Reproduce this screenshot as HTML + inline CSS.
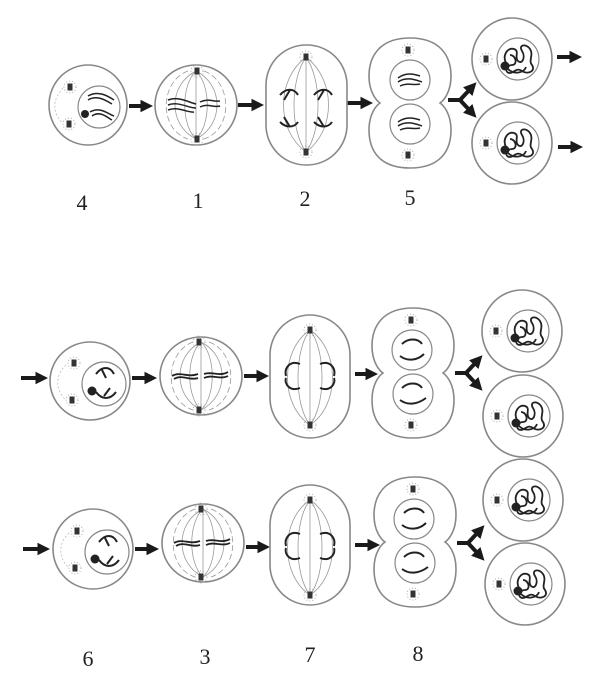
<!DOCTYPE html>
<html><head><meta charset="utf-8"><style>
html,body{margin:0;padding:0;background:#fff;}
svg{display:block}
text{font-family:"Liberation Serif",serif;font-size:22px;fill:#222;}
</style></head><body>
<svg width="606" height="676" viewBox="0 0 606 676" xmlns="http://www.w3.org/2000/svg">
<defs>
<marker id="ah" viewBox="0 0 10 10" refX="6" refY="5" markerWidth="3.2" markerHeight="3.2" orient="auto"><path d="M0,0 L10,5 L0,10 z" fill="#1a1a1a"/></marker>
<g id="cs"><circle r="6" fill="none" stroke="#aaa" stroke-width="1" stroke-dasharray="1,2"/><rect x="-2.5" y="-3.5" width="5" height="7" fill="#333"/></g>
<path id="pn" d="M0,-65 C30,-65 41,-47 41,-27 C41,-10 33,-2 30,0 C33,2 41,10 41,27 C41,48 30,65 0,65 C-30,65 -41,48 -41,27 C-41,10 -33,2 -30,0 C-33,-2 -41,-10 -41,-27 C-41,-47 -30,-65 0,-65Z" fill="none" stroke="#888" stroke-width="1.6"/>
<g id="sp" fill="none" stroke="#999" stroke-width="0.8">
<path d="M0,-34 C-28,-20 -28,20 0,34"/><path d="M0,-34 C28,-20 28,20 0,34"/>
<path d="M0,-34 C-15,-20 -15,20 0,34"/><path d="M0,-34 C15,-20 15,20 0,34"/>
<path d="M0,-34 L0,34"/>
<path d="M-8,-34 C-36,-24 -38,24 -8,34" stroke-dasharray="6,3"/><path d="M8,-34 C36,-24 38,24 8,34" stroke-dasharray="6,3"/></g>
<g id="dc"><ellipse rx="40" ry="41" fill="none" stroke="#888" stroke-width="1.6"/><circle cx="6" cy="0" r="21" fill="none" stroke="#888" stroke-width="1.2"/><use href="#cs" x="-26" y="0"/>
<path d="M-6,4 C-10,-4 -4,-12 2,-10 C8,-8 2,-2 6,2 C10,6 14,-2 10,-8 C6,-14 14,-16 18,-10 C22,-4 16,2 20,6 C24,12 16,16 10,12 C4,8 2,14 -2,14 C-8,14 -6,6 0,6 C6,6 4,-4 -2,-4 M-4,10 C2,16 12,14 14,8" fill="none" stroke="#222" stroke-width="1.8"/><circle cx="-7" cy="7" r="4.5" fill="#222"/></g>
</defs>
<g stroke="#1a1a1a" stroke-width="4" marker-end="url(#ah)">
<line x1="129" y1="106" x2="148" y2="106"/><line x1="238" y1="105" x2="259" y2="105"/><line x1="347" y1="103" x2="368" y2="103"/>
<line x1="557" y1="57" x2="577" y2="57"/><line x1="558" y1="147" x2="578" y2="147"/>
<line x1="21" y1="378" x2="43" y2="378"/><line x1="132" y1="378" x2="152" y2="378"/><line x1="244" y1="376" x2="264" y2="376"/><line x1="355" y1="374" x2="373" y2="374"/>
<line x1="23" y1="549" x2="45" y2="549"/><line x1="135" y1="549" x2="154" y2="549"/><line x1="246" y1="547" x2="265" y2="547"/><line x1="355" y1="545" x2="375" y2="545"/>
<line x1="460" y1="100" x2="473" y2="86"/><line x1="460" y1="100" x2="473" y2="114"/>
<line x1="466" y1="373" x2="479" y2="359"/><line x1="466" y1="373" x2="479" y2="387"/>
<line x1="468" y1="543" x2="481" y2="529"/><line x1="468" y1="543" x2="481" y2="557"/>
</g>
<g stroke="#1a1a1a" stroke-width="4">
<line x1="448" y1="100" x2="461" y2="100"/><line x1="455" y1="373" x2="467" y2="373"/><line x1="457" y1="543" x2="469" y2="543"/>
</g>
<!-- top row -->
<ellipse cx="88" cy="105" rx="39" ry="40" fill="none" stroke="#888" stroke-width="1.6"/>
<circle cx="99" cy="107" r="21" fill="none" stroke="#888" stroke-width="1.2"/>
<use href="#cs" x="70" y="87"/><use href="#cs" x="69" y="124"/>
<path d="M63,88 C52,100 52,112 63,124" fill="none" stroke="#bbb" stroke-width="0.8" stroke-dasharray="2,2"/>
<g fill="none" stroke="#222" stroke-width="1.5"><path d="M88,96 C98,90 108,96 114,100 M88,100 C98,94 108,102 112,104 M90,112 C100,106 108,114 114,116 M92,116 C100,110 108,118 112,120"/></g>
<circle cx="85" cy="114" r="4" fill="#222"/>
<ellipse cx="196" cy="105" rx="41" ry="40" fill="none" stroke="#888" stroke-width="1.6"/>
<use href="#sp" x="196" y="105"/>
<use href="#cs" x="197" y="71"/><use href="#cs" x="197" y="139"/>
<g fill="none" stroke="#222" stroke-width="1.5"><path d="M168,100 C178,96 188,102 196,104 M168,105 C178,101 188,108 196,108 M168,110 C178,106 188,113 194,112 M200,102 C208,98 214,102 220,101 M200,107 C208,103 214,108 220,106"/></g>
<rect x="266" y="45" width="81" height="120" rx="40" fill="none" stroke="#888" stroke-width="1.6"/>
<g fill="none" stroke="#999" stroke-width="0.8"><path d="M306,57 C276,80 276,130 306,152"/><path d="M306,57 C336,80 336,130 306,152"/><path d="M306,57 C290,80 290,130 306,152"/><path d="M306,57 C322,80 322,130 306,152"/><path d="M306,57 L306,152"/></g>
<use href="#cs" x="306" y="57"/><use href="#cs" x="306" y="152"/>
<g fill="none" stroke="#222" stroke-width="2"><path d="M280,95 C286,88 294,88 298,95 M284,100 L290,90 M280,122 C286,128 294,128 298,122 M284,117 L290,127 M314,95 C320,88 328,88 332,95 M318,100 L324,90 M314,122 C320,128 328,128 332,122 M318,117 L324,127"/></g>
<use href="#pn" x="410" y="103"/>
<circle cx="410" cy="80" r="20" fill="none" stroke="#888" stroke-width="1.2"/><circle cx="410" cy="124" r="20" fill="none" stroke="#888" stroke-width="1.2"/>
<use href="#cs" x="408" y="50"/><use href="#cs" x="408" y="155"/>
<g fill="none" stroke="#222" stroke-width="1.5"><path d="M398,78 C406,72 414,74 420,76 M398,82 C406,76 416,80 422,82 M400,86 C408,82 414,86 420,84 M398,122 C406,116 414,118 420,120 M398,126 C406,120 416,124 422,126 M400,130 C408,126 414,130 420,128"/></g>
<use href="#dc" x="512" y="59"/><use href="#dc" x="512" y="143"/>
<!-- middle row -->
<ellipse cx="90" cy="381" rx="40" ry="39" fill="none" stroke="#888" stroke-width="1.6"/>
<circle cx="104" cy="384" r="22" fill="none" stroke="#888" stroke-width="1.2"/>
<use href="#cs" x="74" y="363"/><use href="#cs" x="72" y="400"/>
<path d="M66,365 C55,375 55,390 66,400" fill="none" stroke="#bbb" stroke-width="0.8" stroke-dasharray="2,2"/>
<g fill="none" stroke="#222" stroke-width="2"><path d="M96,374 C102,366 110,366 114,374 M102,370 L106,378 M96,392 C102,400 110,400 116,392 M104,396 L110,388"/></g>
<circle cx="92" cy="391" r="4.5" fill="#222"/>
<ellipse cx="201" cy="376" rx="41" ry="39" fill="none" stroke="#888" stroke-width="1.6"/>
<use href="#sp" x="201" y="376"/>
<use href="#cs" x="199" y="342"/><use href="#cs" x="199" y="410"/>
<g fill="none" stroke="#222" stroke-width="1.8"><path d="M172,376 C180,371 188,378 198,374 M174,379 C182,374 190,381 198,378 M204,374 C212,371 220,377 228,372 M204,378 C212,374 220,380 228,376"/></g>
<rect x="270" y="315" width="80" height="123" rx="40" fill="none" stroke="#888" stroke-width="1.6"/>
<g fill="none" stroke="#999" stroke-width="0.8"><path d="M310,330 C280,350 280,405 310,425"/><path d="M310,330 C340,350 340,405 310,425"/><path d="M310,330 C294,350 294,405 310,425"/><path d="M310,330 C326,350 326,405 310,425"/><path d="M310,330 L310,425"/></g>
<use href="#cs" x="310" y="330"/><use href="#cs" x="310" y="425"/>
<g fill="none" stroke="#222" stroke-width="2"><path d="M300,364 C290,360 284,368 286,376 M300,388 C290,392 284,384 286,378 M320,364 C330,360 336,368 334,376 M320,388 C330,392 336,384 334,378"/></g>
<use href="#pn" x="413" y="373"/>
<circle cx="412" cy="350" r="20" fill="none" stroke="#888" stroke-width="1.2"/><circle cx="413" cy="394" r="20" fill="none" stroke="#888" stroke-width="1.2"/>
<use href="#cs" x="411" y="320"/><use href="#cs" x="411" y="425"/>
<g fill="none" stroke="#222" stroke-width="2"><path d="M402,344 C408,338 418,338 422,344 M400,356 C408,362 418,360 424,354 M402,388 C408,382 418,382 422,388 M400,400 C408,406 418,404 426,398"/></g>
<use href="#dc" x="522" y="331"/><use href="#dc" x="523" y="416"/>
<!-- bottom row -->
<g transform="translate(3,168)">
<ellipse cx="90" cy="381" rx="40" ry="40" fill="none" stroke="#888" stroke-width="1.6"/>
<circle cx="104" cy="384" r="22" fill="none" stroke="#888" stroke-width="1.2"/>
<use href="#cs" x="74" y="363"/><use href="#cs" x="72" y="400"/>
<path d="M66,365 C55,375 55,390 66,400" fill="none" stroke="#bbb" stroke-width="0.8" stroke-dasharray="2,2"/>
<g fill="none" stroke="#222" stroke-width="2"><path d="M96,374 C102,366 110,366 114,374 M102,370 L106,378 M96,392 C102,400 110,400 116,392 M104,396 L110,388"/></g>
<circle cx="92" cy="391" r="4.5" fill="#222"/>
</g>
<g transform="translate(2,167)">
<ellipse cx="201" cy="376" rx="41" ry="39" fill="none" stroke="#888" stroke-width="1.6"/>
<use href="#sp" x="201" y="376"/>
<use href="#cs" x="199" y="342"/><use href="#cs" x="199" y="410"/>
<g fill="none" stroke="#222" stroke-width="1.8"><path d="M172,376 C180,371 188,378 198,374 M174,379 C182,374 190,381 198,378 M204,374 C212,371 220,377 228,372 M204,378 C212,374 220,380 228,376"/></g>
</g>
<g transform="translate(0,170)">
<rect x="270" y="315" width="80" height="120" rx="40" fill="none" stroke="#888" stroke-width="1.6"/>
<g fill="none" stroke="#999" stroke-width="0.8"><path d="M310,330 C280,350 280,405 310,425"/><path d="M310,330 C340,350 340,405 310,425"/><path d="M310,330 C294,350 294,405 310,425"/><path d="M310,330 C326,350 326,405 310,425"/><path d="M310,330 L310,425"/></g>
<use href="#cs" x="310" y="330"/><use href="#cs" x="310" y="425"/>
<g fill="none" stroke="#222" stroke-width="2"><path d="M300,364 C290,360 284,368 286,376 M300,388 C290,392 284,384 286,378 M320,364 C330,360 336,368 334,376 M320,388 C330,392 336,384 334,378"/></g>
</g>
<g transform="translate(2,169)">
<use href="#pn" x="413" y="373"/>
<circle cx="412" cy="350" r="20" fill="none" stroke="#888" stroke-width="1.2"/><circle cx="413" cy="394" r="20" fill="none" stroke="#888" stroke-width="1.2"/>
<use href="#cs" x="411" y="320"/><use href="#cs" x="411" y="425"/>
<g fill="none" stroke="#222" stroke-width="2"><path d="M402,344 C408,338 418,338 422,344 M400,356 C408,362 418,360 424,354 M402,388 C408,382 418,382 422,388 M400,400 C408,406 418,404 426,398"/></g>
</g>
<use href="#dc" x="523" y="500"/><use href="#dc" x="525" y="584"/>
<!-- labels -->
<text x="82" y="210" text-anchor="middle">4</text>
<text x="198" y="208" text-anchor="middle">1</text>
<text x="305" y="206" text-anchor="middle">2</text>
<text x="410" y="205" text-anchor="middle">5</text>
<text x="88" y="666" text-anchor="middle">6</text>
<text x="205" y="664" text-anchor="middle">3</text>
<text x="310" y="662" text-anchor="middle">7</text>
<text x="418" y="661" text-anchor="middle">8</text>
</svg>
</body></html>
